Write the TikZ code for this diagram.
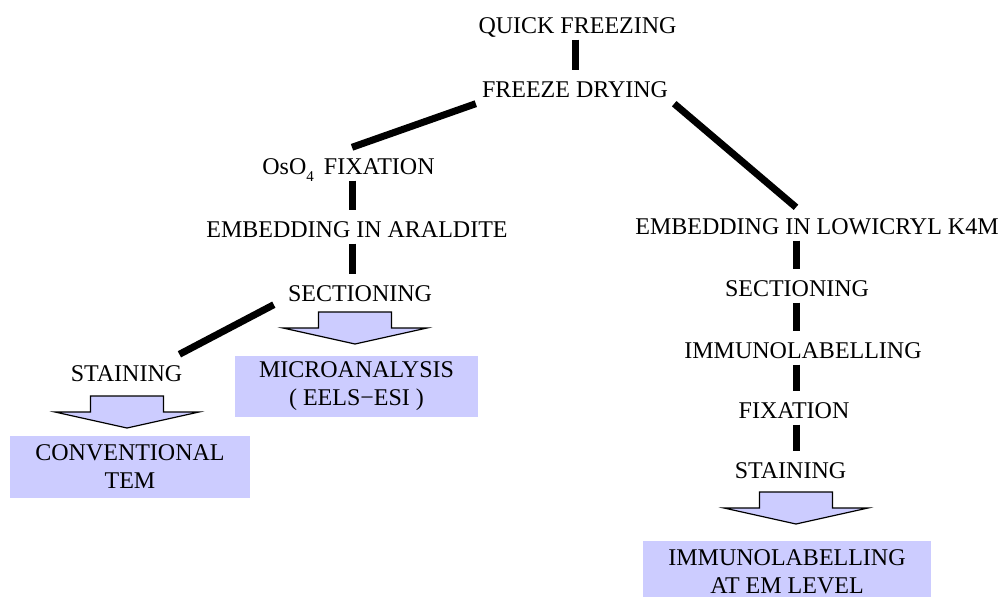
\documentclass[tikz,border=0pt]{standalone}
\usepackage{fontspec}
\setmainfont{Liberation Serif}
\definecolor{boxfill}{HTML}{CCCCFF}
\begin{document}
\begin{tikzpicture}[x=1pt,y=-1pt,
  lbl/.style={inner xsep=6pt, inner ysep=6.5pt, text height=20pt, text depth=0pt, anchor=base, font=\fontsize{24}{28}\selectfont},
  conn/.style={line width=7pt, line cap=butt},
  resbox/.style={fill=boxfill, inner sep=0pt, align=center, font=\fontsize{24}{28}\selectfont},
  bigarrow/.pic={\draw[fill=boxfill, line width=1.2pt, line join=miter] (-36.5,0) -- (36.5,0) -- (36.5,16) -- (72,16) -- (0,32) -- (-72,16) -- (-36.5,16) -- cycle;}
]
\useasboundingbox (0,0) rectangle (1004,597);

% text nodes
\node[lbl] (qf) at (577.5,33) {QUICK FREEZING};
\node[lbl] (fd) at (575,97) {FREEZE DRYING};
\node[lbl] (os) at (348.5,174) {OsO\raisebox{-7pt}{\fontsize{15}{15}\selectfont 4}\hspace{4pt} FIXATION};
\node[lbl] (ea) at (357,237) {EMBEDDING IN ARALDITE};
\node[lbl] (sl) at (360,301) {SECTIONING};
\node[lbl] (st) at (126.5,381) {STAINING};
\node[lbl] (el) at (817,234) {EMBEDDING IN LOWICRYL K4M};
\node[lbl] (sr) at (797,296) {SECTIONING};
\node[lbl] (im) at (803,358) {IMMUNOLABELLING};
\node[lbl] (fx) at (794,418) {FIXATION};
\node[lbl] (str) at (790.5,478) {STAINING};

% result boxes
\node[resbox, minimum width=243pt, minimum height=61pt] (micro) at (356.5,386.5) {MICROANALYSIS\\( EELS−ESI )};
\node[resbox, minimum width=240pt, minimum height=62pt] (conv) at (130,467) {CONVENTIONAL\\TEM};
\node[resbox, minimum width=288pt, minimum height=62pt] (imem) at (787,572) {IMMUNOLABELLING\\AT EM LEVEL};

% axes for vertical connectors
\coordinate (mx) at (575,0);
\coordinate (lx) at (352,0);
\coordinate (rx) at (796,0);

% connectors
\draw[conn] (qf.south -| mx) -- (fd.north -| mx);
\draw[conn] (fd.south west) -- (os.north -| lx);
\draw[conn] (os.south -| lx) -- (ea.north -| lx);
\draw[conn] (ea.south -| lx) -- (sl.north -| lx);
\draw[conn] ([xshift=-8pt,yshift=3pt]sl.south west) -- ([xshift=-9pt]st.north east);
\draw[conn] (fd.south east) -- (el.north -| rx);
\draw[conn] (el.south -| rx) -- (sr.north -| rx);
\draw[conn] (sr.south -| rx) -- (im.north -| rx);
\draw[conn] (im.south -| rx) -- (fx.north -| rx);
\draw[conn] (fx.south -| rx) -- (str.north -| rx);

% block arrows
\pic at (355,312) {bigarrow};
\pic at (127,396) {bigarrow};
\pic at (796,492) {bigarrow};
\end{tikzpicture}
\end{document}
